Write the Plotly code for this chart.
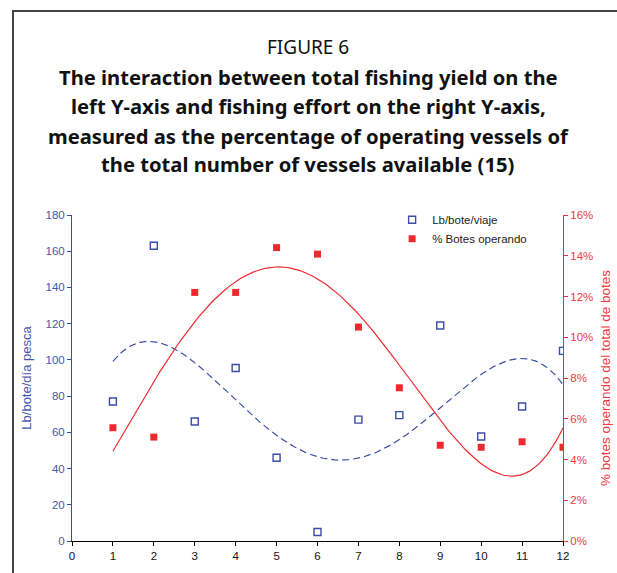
import numpy as np
import plotly.graph_objects as go

# Monthly observations (month index 1..12)
months = [1, 2, 3, 4, 5, 6, 7, 8, 9, 10, 11, 12]
lb_bote_viaje = [77, 163, 66, 95.5, 46, 5, 67, 69.5, 119, 57.7, 74.3, 105]
pct_botes_operando = [0.0556, 0.051, 0.122, 0.122, 0.144, 0.1408, 0.105, 0.0752, 0.047, 0.046, 0.0487, 0.046]

x_ticks = list(range(0, 13))
left_ticks = list(range(0, 181, 20))
right_ticks = [i / 100 for i in range(0, 17, 2)]

BLUE = "#3A4DA6"
BLUE_TXT = "#4657AE"
RED = "#EE2A2E"
RED_TXT = "#EE3A3E"
FONT = "Liberation Sans, Arial, sans-serif"
TITLE_FONT = "Noto Sans, Open Sans, sans-serif"

# Polynomial trend lines (order 4) fitted to each series
deg = 4
xs = np.linspace(min(months), max(months), 200)
fit_lb = np.polyval(np.polyfit(months, lb_bote_viaje, deg), xs)
fit_pct = np.polyval(np.polyfit(months, pct_botes_operando, deg), xs)

fig = go.Figure()

fig.add_trace(go.Scatter(
    x=xs, y=fit_lb, mode="lines", showlegend=False, hoverinfo="skip",
    line=dict(color=BLUE, width=1.2, dash="7px,4px"),
))
fig.add_trace(go.Scatter(
    x=xs, y=fit_pct, mode="lines", yaxis="y2", showlegend=False, hoverinfo="skip",
    line=dict(color=RED, width=1.2),
))
fig.add_trace(go.Scatter(
    x=months, y=lb_bote_viaje, mode="markers", name="Lb/bote/viaje",
    marker=dict(symbol="square-open", size=7, color=BLUE, line=dict(width=1.4, color=BLUE)),
))
fig.add_trace(go.Scatter(
    x=months, y=pct_botes_operando, mode="markers", name="% Botes operando", yaxis="y2",
    marker=dict(symbol="square", size=7, color=RED),
))

title_lines = [
    ("FIGURE 6", False, 1.515),
    ("The interaction between total fishing yield on the", True, 1.424),
    ("left Y-axis and fishing effort on the right Y-axis,", True, 1.335),
    ("measured as the percentage of operating vessels of", True, 1.243),
    ("the total number of vessels available (15)", True, 1.156),
]
annotations = []
for text, bold, ypos in title_lines:
    annotations.append(dict(
        text=f"<b>{text}</b>" if bold else text,
        xref="paper", yref="paper", x=0.481, y=ypos,
        xanchor="center", yanchor="middle", showarrow=False,
        font=dict(family=TITLE_FONT, size=20.2 if bold else 19, color="#111111"),
    ))

fig.update_layout(
    width=617, height=573,
    margin=dict(l=72, r=54, t=215, b=32, autoexpand=False),
    paper_bgcolor="white", plot_bgcolor="white",
    font=dict(family=FONT, size=11),
    annotations=annotations,
    showlegend=True,
    legend=dict(
        x=0.652, y=1.03, xanchor="left", yanchor="top",
        bgcolor="rgba(0,0,0,0)", font=dict(family=FONT, size=11.5, color="#222222"),
        tracegroupgap=2, itemwidth=30,
    ),
    xaxis=dict(
        range=[0, 12], tickvals=x_ticks, ticks="outside", ticklen=4,
        showline=True, linecolor="black", linewidth=1, tickcolor="black",
        showgrid=False, zeroline=False, tickfont=dict(color="#111111", size=11.5),
        automargin=False,
    ),
    yaxis=dict(
        range=[0, 180], tickvals=left_ticks, ticks="outside", ticklen=4,
        showline=True, linecolor=BLUE, linewidth=1, tickcolor=BLUE,
        showgrid=False, zeroline=False, tickfont=dict(color=BLUE_TXT, size=11.5),
        title=dict(text="Lb/bote/día pesca", font=dict(color=BLUE_TXT, size=13), standoff=10),
        automargin=False,
    ),
    yaxis2=dict(
        range=[0, 0.16], tickvals=right_ticks, tickformat=".0%", overlaying="y", side="right",
        ticks="outside", ticklen=4, showline=True, linecolor=RED, linewidth=1, tickcolor=RED,
        showgrid=False, zeroline=False, tickfont=dict(color=RED_TXT, size=11.5),
        title=dict(text="% botes operando del total de botes", font=dict(color=RED_TXT, size=13.5), standoff=8),
        automargin=False,
    ),
    shapes=[dict(
        type="rect", xref="paper", yref="paper",
        x0=(13 - 72) / 491, x1=1.3, y0=-0.2, y1=(541 - 11) / 326,
        line=dict(color="#444444", width=2), fillcolor="rgba(0,0,0,0)", layer="below",
    )],
)

fig.write_html("out.html")
